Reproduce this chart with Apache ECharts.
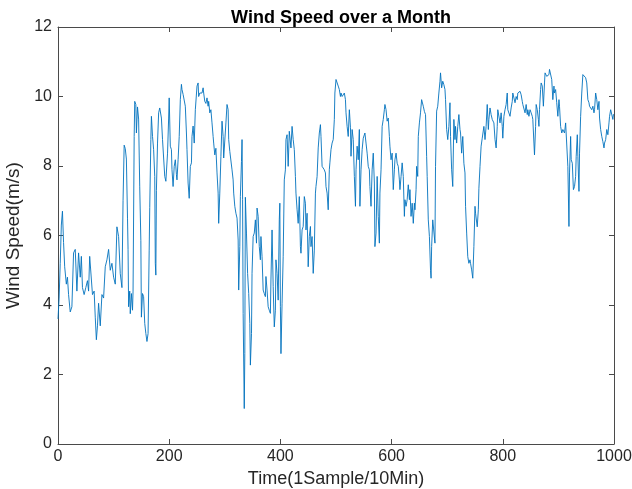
<!DOCTYPE html>
<html>
<head>
<meta charset="utf-8">
<script src="https://cdn.jsdelivr.net/npm/echarts@6/dist/echarts.min.js"></script>
<style>
  html, body { margin: 0; padding: 0; background: #fff; }
  #chart { width: 632px; height: 489px; }
</style>
</head>
<body>
<div id="chart"></div>
<script>
// [sample index, wind speed m/s] in chunks
const windA = [[0,3.6],[2,4.2],[4,5.2],[6,6.3],[8,6.7],[10,5.8],[12,5.1],[15,4.6],[17,4.8],[19,4.3],[22,3.8],[25,3.95],[28,5.5],[31,5.6],[34,4.4],[37,5.5],[40,4.8],[42,5.4],[44,4.5],[47,4.3],[50,4.5],[53,4.7],[55,4.4],[57,5.4],[60,5.45],[62,4.3],[65,4.4],[67,3.65],[69,3.0],[71,3.4],[73,4.05],[76,3.4],[79,4.3],[82,4.2],[85,5.1],[88,5.3],[91,5.6],[94,5.0],[97,5.2],[100,4.8],[103,4.6],[106,6.25],[109,5.97],[112,4.9],[115,4.5],[117,7.0],[119,8.6],[121,8.5],[123,8.2],[125,6.5]];
const windB = [[126,5.6],[127,3.95],[129,4.4],[130,3.75],[132,4.33],[134,3.85],[135,4.4],[137,8.85],[138,9.86],[140,9.77],[141,8.95],[143,9.7],[145,9.35],[147,7.4],[149,5.85],[150,3.65],[152,4.33],[154,4.24],[156,3.47],[158,3.18],[160,2.95],[162,3.18],[164,5.58],[165,6.8],[167,8.76],[168,9.43],[170,8.85],[172,8.47],[174,7.7],[175,5.2],[176,4.86],[177,7.3],[179,8.66],[181,9.53],[183,9.67],[185,9.62],[186,9.38],[188,8.76],[190,8.23],[192,7.7],[194,7.56],[195,7.6],[197,8.37],[199,9.38],[200,9.96],[202,8.57],[204,8.47],[205,7.9],[207,7.41],[209,7.99],[211,8.18],[213,7.75],[214,7.6],[216,8.18],[218,8.85],[220,9.91],[222,10.35],[223,10.2],[225,10.06],[227,10.1],[229,9.72],[231,8.95],[232,8.47],[234,7.51],[236,7.07],[238,7.99],[240,8.09],[241,8.85],[243,9.15],[245,8.66],[247,9.62]];
const windC = [[250,10.3],[252,10.39],[253,10.0],[255,10.1],[257,10.15],[259,10.1],[261,10.25],[262,10.1],[264,9.86],[266,9.8],[268,9.96],[270,9.72],[271,9.86],[273,9.53],[275,9.62],[277,9.24],[279,8.85],[280,8.66],[282,8.32],[284,8.51],[286,7.8],[288,7.22],[289,6.35],[291,7.22],[293,8.28],[295,9.29],[297,8.85],[298,8.23],[300,8.28],[302,9.24],[304,9.77],[306,9.62],[307,8.76],[309,8.42],[311,8.37],[313,7.89],[315,7.6],[316,7.22],[318,6.84],[320,6.64],[322,6.5],[324,5.87],[325,4.43],[327,5.68],[328,7.12],[330,8.13],[331,8.76],[332,7.03],[333,3.76],[335,1.02],[336,2.6],[337,7.1],[339,6.07],[341,4.91],[343,4.33],[345,3.47],[346,2.27],[348,3.18],[349,4.91],[351,5.97],[353,6.07],[355,6.45],[357,5.78],[358,6.79],[360,6.55],[362,5.68],[364,5.3],[365,5.97],[367,5.39],[369,4.43],[371,4.33],[373,4.24],[374,4.82],[376,4.43]];
const windD = [[378,3.95],[380,3.85],[382,3.76],[383,4.72],[385,6.16],[387,4.53],[389,3.37],[391,3.85],[392,5.3],[394,4.91],[396,4.14],[398,6.45],[399,6.93],[400,3.95],[401,2.6],[403,4.05],[405,5.39],[407,7.6],[409,7.89],[410,8.76],[412,8.9],[414,7.99],[416,9.0],[418,9.05],[419,8.52],[421,9.14],[423,8.76],[425,8.47],[427,7.7],[428,7.22],[430,6.74],[432,6.35],[434,7.12],[436,5.68],[437,5.49],[439,6.16],[441,6.26],[443,7.12],[445,6.93],[446,6.16],[448,6.64],[450,5.1],[452,5.97],[454,6.26],[455,5.68],[457,5.97],[459,4.91],[461,5.58],[463,7.22],[464,7.41],[466,7.7],[468,8.52],[470,8.95],[472,9.19],[473,8.85],[475,7.99],[477,8.04],[479,7.89],[481,7.8],[482,7.41],[484,7.22],[486,6.74],[488,7.89],[489,8.09],[491,8.47],[493,8.66],[495,8.76],[497,9.34],[498,10.1],[500,10.49]];
const windE = [[502,10.44],[504,10.3],[506,10.2],[508,10.0],[509,10.1],[511,10.0],[513,10.05],[515,10.1],[517,9.91],[518,9.53],[520,9.14],[522,8.85],[524,9.62],[526,9.1],[527,8.28],[529,9.05],[531,8.76],[533,7.7],[535,6.84],[536,7.89],[538,8.57],[540,8.18],[542,9.05],[543,6.84],[545,7.89],[547,8.47],[549,8.8],[551,8.85],[552,8.95],[554,8.66],[556,8.37],[558,7.99],[560,7.89],[561,7.41],[563,6.84],[565,7.89],[567,8.37],[569,7.51],[570,5.68],[572,6.07],[574,7.7],[576,6.55],[578,5.78],[579,7.22],[581,7.89],[583,9.14],[585,9.34],[587,9.62],[588,9.77],[590,9.62],[592,9.29],[594,9.38],[596,8.85],[597,8.57],[599,8.18],[601,8.37],[603,7.32],[605,7.89],[606,8.18],[608,8.37],[610,8.08],[612,7.99],[614,7.6],[615,7.32],[617,7.7],[619,8.09],[621,7.7],[623,6.55],[624,7.03],[626,6.84],[628,7.03]];
const windF = [[630,7.46],[632,7.03],[633,7.32],[635,6.55],[637,6.93],[639,6.35],[641,6.93],[642,6.74],[644,7.32],[645,7.99],[647,7.7],[648,8.85],[650,9.24],[652,9.53],[654,9.91],[656,9.96],[657,9.72],[659,9.57],[661,9.48],[663,8.28],[664,7.7],[666,6.45],[668,5.97],[670,5.0],[671,4.77],[672,5.68],[674,6.45],[676,6.45],[678,5.78],[679,7.99],[681,9.58],[683,9.72],[685,10.1],[687,10.44],[688,10.68],[690,10.25],[692,10.44],[694,10.34],[696,10.2],[697,9.91],[699,9.05],[701,8.76],[703,9.14],[705,9.82],[706,8.85],[708,7.89],[710,7.41],[712,9.34],[714,8.76],[715,9.14],[717,8.66],[719,9.14],[721,9.48],[723,9.05],[724,8.95],[726,8.37],[728,8.85],[730,8.08],[732,7.8],[733,6.84],[735,6.07],[737,5.39],[739,5.2],[741,5.3],[742,5.2],[744,5.01],[746,4.77],[748,5.68],[750,6.84],[751,6.64]];
const windG = [[754,6.25],[756,6.74],[757,7.36],[759,7.99],[761,8.57],[763,8.8],[765,8.85],[766,9.14],[768,8.76],[770,9.14],[772,9.77],[774,9.05],[775,9.34],[777,9.67],[779,9.48],[781,9.34],[783,9.38],[784,9.24],[786,8.76],[788,8.52],[790,9.14],[791,9.62],[793,9.67],[795,9.24],[797,9.53],[799,9.14],[800,8.8],[802,9.43],[804,9.62],[806,9.77],[808,10.1],[809,9.62],[811,9.67],[813,9.43],[815,9.67],[817,9.86],[818,10.1],[820,10.05],[822,9.82],[824,10.0],[826,9.91],[827,10.1],[829,10.15],[831,10.15],[833,10.05],[835,9.86],[836,9.77],[838,9.72],[840,9.53],[842,9.77],[844,9.48],[845,9.62],[847,9.43],[849,9.62],[851,9.53],[853,9.43],[854,9.34],[856,8.66],[857,8.32],[859,9.14],[860,9.77],[862,9.62],[864,9.34],[865,9.14],[866,9.62],[868,10.2],[869,10.39],[871,10.3],[873,9.72],[875,10.39],[876,10.68],[878,10.73],[879,10.58]];
const windH = [[881,10.54],[883,10.63],[884,10.78],[886,10.82],[888,10.49],[890,9.91],[892,10.3],[893,10.1],[895,10.2],[897,9.82],[899,9.43],[901,9.91],[902,9.72],[904,9.14],[906,8.95],[908,9.05],[910,9.0],[911,8.95],[913,9.24],[915,9.29],[917,7.99],[919,6.26],[920,7.8],[922,8.85],[923,8.18],[925,8.08],[927,7.32],[929,7.41],[931,7.7],[932,8.28],[934,8.9],[935,8.28],[937,7.27],[938,8.37],[940,9.43],[942,10.1],[944,10.63],[946,10.68],[947,10.58],[949,10.54],[951,10.39],[953,9.91],[955,9.82],[956,9.72],[958,9.67],[960,9.62],[962,9.72],[964,9.53],[965,9.62],[967,10.1],[969,9.91],[971,9.62],[973,9.86],[974,9.38],[976,9.05],[978,8.85],[980,8.7],[982,8.52],[983,8.66],[985,8.76],[987,9.05],[989,8.9],[991,9.24],[992,9.43],[994,9.62],[996,9.67],[998,9.34],[999,9.48],[1000,9.5]];

const X_MAX = 1000;
const Y_MAX = 12;

const FONT = "'Liberation Sans', Arial, Helvetica, sans-serif";
const AXIS_COLOR = "#4a4a4a";
const TEXT_COLOR = "#262626";

const chart = echarts.init(document.getElementById("chart"));

const tick = { show: true, inside: true, length: 5, lineStyle: { color: AXIS_COLOR, width: 1 } };
const line = { show: true, onZero: false, lineStyle: { color: AXIS_COLOR, width: 1 } };

chart.setOption({
  animation: false,
  title: {
    text: "Wind Speed over a Month",
    left: 336,
    textAlign: "center",
    top: 4,
    textStyle: { fontFamily: FONT, fontSize: 18, fontWeight: "bold", color: "#000" },
  },
  grid: { left: 58, right: 18, top: 27, bottom: 45, outerBoundsMode: "none", containLabel: false },
  xAxis: [
    {
      type: "value",
      min: 0,
      max: X_MAX,
      interval: 200,
      axisLine: line,
      axisTick: tick,
      splitLine: { show: false },
      axisLabel: {
        fontFamily: FONT,
        fontSize: 16,
        color: TEXT_COLOR,
        margin: 5,
        formatter: (v) => String(v),
      },
      name: "Time(1Sample/10Min)",
      nameLocation: "middle",
      nameGap: 21,
      nameTextStyle: { fontFamily: FONT, fontSize: 18, color: TEXT_COLOR },
    },
    {
      type: "value",
      position: "top",
      min: 0,
      max: X_MAX,
      interval: 200,
      axisLine: line,
      axisTick: tick,
      axisLabel: { show: false },
      splitLine: { show: false },
    },
  ],
  yAxis: [
    {
      type: "value",
      min: 0,
      max: Y_MAX,
      interval: 2,
      axisLine: line,
      axisTick: tick,
      splitLine: { show: false },
      axisLabel: { fontFamily: FONT, fontSize: 16, color: TEXT_COLOR, margin: 6 },
      name: "Wind Speed(m/s)",
      nameLocation: "middle",
      nameGap: 17,
      nameTextStyle: { fontFamily: FONT, fontSize: 19, color: TEXT_COLOR },
    },
    {
      type: "value",
      position: "right",
      min: 0,
      max: Y_MAX,
      interval: 2,
      axisLine: line,
      axisTick: tick,
      axisLabel: { show: false },
      splitLine: { show: false },
    },
  ],
  series: [
    {
      type: "line",
      data: [].concat(windA, windB, windC, windD, windE, windF, windG, windH),
      showSymbol: false,
      lineStyle: { color: "#0072BD", width: 0.9 },
    },
  ],
});
</script>
</body>
</html>
